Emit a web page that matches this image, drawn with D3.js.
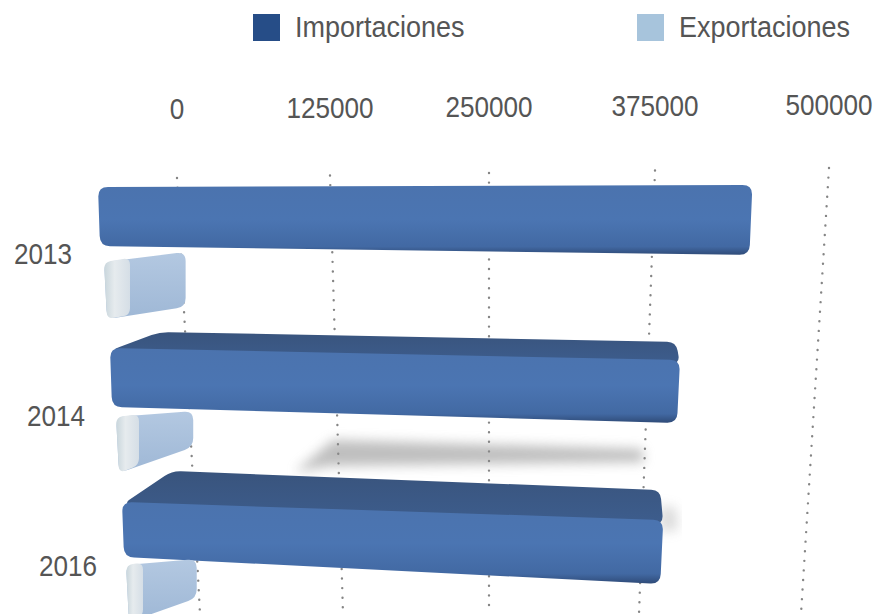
<!DOCTYPE html>
<html>
<head>
<meta charset="utf-8">
<script src="https://cdn.jsdelivr.net/npm/d3@7"></script>
<style>
  body { margin: 0; background: #fff; }
  text { font-family: "Liberation Sans", Arial, sans-serif; fill: #555; }
</style>
</head>
<body>
<svg id="chart" width="877" height="614"></svg>
<script>
const years = ['2013', '2014', '2016'];
const importaciones = [457000, 406000, 398000];
const exportaciones = [57000, 55000, 52000];
const tickValues = [0, 125000, 250000, 375000, 500000];
const seriesNames = ['Importaciones', 'Exportaciones'];
const seriesColors = ['#264d87', '#a7c4dc'];

// perspective layout: where each gridline starts (top) and ends (bottom)
const gridTopX = d3.scaleLinear().domain(tickValues).range([177, 330, 489, 655, 829]);
const gridBotX = d3.scaleLinear().domain(tickValues).range([200, 343, 489, 639, 801]);
const gridTopY = d3.scaleLinear().domain([0, 500000]).range([178, 168]);
const labelY = d3.scaleLinear().domain([0, 500000]).range([119, 115]);

// per-row front-plane geometry (the 3d look)
const rowLayout = {
  '2013': { x0: 98, span: 716, imp: { tl: 187, tr: 185, bl: 246, br: 255 }, top: null,
            exp: { tl: 262, tr: 252, bl: 319, br: 307 }, expOff: 6, side: 26, label: [43, 264] },
  '2014': { x0: 110, span: 702, imp: { tl: 348, tr: 360, bl: 407, br: 423 },
            top: { dxL: 50, yL: 332, dxR: 4, yR: 342 },
            exp: { tl: 417, tr: 411, bl: 473, br: 447 }, expOff: 6, side: 23, label: [56, 426] },
  '2016': { x0: 122, span: 680, imp: { tl: 502, tr: 520, bl: 557, br: 584 },
            top: { dxL: 50, yL: 471, dxR: 3, yR: 490 },
            exp: { tl: 565, tr: 559, bl: 622, br: 598 }, expOff: 4, side: 17, label: [68, 576] }
};

const svg = d3.select('#chart');
const defs = svg.append('defs');

function vGrad(id, stops) {
  const g = defs.append('linearGradient').attr('id', id)
    .attr('x1', 0).attr('y1', 0).attr('x2', 0).attr('y2', 1);
  stops.forEach(s => g.append('stop').attr('offset', s[0]).attr('stop-color', s[1]));
}
vGrad('impFront', [[0, '#4b73ae'], [0.5, '#4b75b2'], [0.88, '#4269a3'], [1, '#2f4b78']]);
vGrad('impTop', [[0, '#39547d'], [1, '#3d5d8d']]);
vGrad('expFront', [[0, '#b3c8e1'], [1, '#9fb8d6']]);
const sg = defs.append('linearGradient').attr('id', 'expSide')
  .attr('x1', 0).attr('y1', 0).attr('x2', 1).attr('y2', 0);
sg.append('stop').attr('offset', 0).attr('stop-color', '#c9d6dc');
sg.append('stop').attr('offset', 0.4).attr('stop-color', '#e6ebee');
sg.append('stop').attr('offset', 1).attr('stop-color', '#d5dee6');
defs.append('filter').attr('id', 'blur').attr('x', '-20%').attr('y', '-100%')
  .attr('width', '140%').attr('height', '300%')
  .append('feGaussianBlur').attr('stdDeviation', 6);

// polygon with rounded corners
function roundPoly(pts, r) {
  const n = pts.length;
  let d = '';
  for (let i = 0; i < n; i++) {
    const p = pts[i], prev = pts[(i + n - 1) % n], next = pts[(i + 1) % n];
    const l1 = Math.hypot(prev[0] - p[0], prev[1] - p[1]);
    const l2 = Math.hypot(next[0] - p[0], next[1] - p[1]);
    const r1 = Math.min(r, l1 / 2), r2 = Math.min(r, l2 / 2);
    const a = [p[0] + (prev[0] - p[0]) * r1 / l1, p[1] + (prev[1] - p[1]) * r1 / l1];
    const b = [p[0] + (next[0] - p[0]) * r2 / l2, p[1] + (next[1] - p[1]) * r2 / l2];
    d += (i === 0 ? 'M' : 'L') + a[0] + ',' + a[1] + 'Q' + p[0] + ',' + p[1] + ' ' + b[0] + ',' + b[1];
  }
  return d + 'Z';
}

// legend
const legend = svg.append('g').attr('class', 'legend');
const legendX = [253, 637];
seriesNames.forEach((name, i) => {
  legend.append('rect').attr('x', legendX[i]).attr('y', 14).attr('width', 27).attr('height', 27)
    .attr('fill', seriesColors[i]);
  legend.append('text').attr('transform', `translate(${legendX[i] + 42},37) scale(0.9,1)`)
    .style('font-size', '30px').text(name);
});

// tick labels
svg.append('g').selectAll('text').data(tickValues).join('text')
  .attr('transform', d => `translate(${gridTopX(d)},${labelY(d)}) scale(0.87,1)`)
  .attr('text-anchor', 'middle').style('font-size', '30px')
  .text(d => d3.format('d')(d));

// dotted gridlines
svg.append('g').selectAll('line').data(tickValues).join('line')
  .attr('x1', d => gridTopX(d)).attr('y1', d => gridTopY(d))
  .attr('x2', d => gridBotX(d)).attr('y2', 614)
  .attr('stroke', '#858585').attr('stroke-width', 2.4)
  .attr('stroke-linecap', 'round').attr('stroke-dasharray', '0 9.6');

// soft shadows on the floor
svg.append('path')
  .attr('d', 'M295,472L333,440L642,449L644,462L330,466Z')
  .attr('fill', '#8a8a8a').attr('opacity', 0.55).attr('filter', 'url(#blur)');
svg.append('path')
  .attr('d', 'M660,505L676,508L678,530L660,532Z')
  .attr('fill', '#9a9a9a').attr('opacity', 0.35).attr('filter', 'url(#blur)');

// bars
years.forEach((year, i) => {
  const L = rowLayout[year];
  const x = d3.scaleLinear().domain([0, 500000]).range([L.x0, L.x0 + L.span]);
  const g = svg.append('g').attr('class', 'row-' + year);

  // importaciones
  const xl = x(0), xr = x(importaciones[i]);
  const im = L.imp;
  if (L.top) {
    g.append('path')
      .attr('d', roundPoly([[xl + 1, im.tl + 2], [xl + L.top.dxL, L.top.yL], [xr - L.top.dxR, L.top.yR], [xr, im.tr + 4]], 9))
      .attr('fill', 'url(#impTop)');
  }
  g.append('path')
    .attr('d', roundPoly([[xl, im.tl], [xr, im.tr], [xr - 3, im.br], [xl + 2, im.bl]], 10))
    .attr('fill', 'url(#impFront)');

  // exportaciones
  const ex = L.exp;
  const el = x(0) + L.expOff, er = x(exportaciones[i]) + L.expOff;
  const side = L.side;
  const tMid = ex.tl + (ex.tr - ex.tl) * side / (er - el);
  const bMid = ex.bl + (ex.br - ex.bl) * side / (er - el);
  g.append('path')
    .attr('d', roundPoly([[el, ex.tl], [er, ex.tr], [er, ex.br], [el + 3, ex.bl]], 9))
    .attr('fill', 'url(#expFront)');
  g.append('path')
    .attr('d', roundPoly([[el, ex.tl], [el + side, tMid - 1], [el + side, bMid], [el + 3, ex.bl]], 7))
    .attr('fill', 'url(#expSide)');

  // year label
  g.append('text')
    .attr('transform', `translate(${L.label[0]},${L.label[1]}) scale(0.87,1)`)
    .attr('text-anchor', 'middle').style('font-size', '30px')
    .text(year);
});
</script>
</body>
</html>
